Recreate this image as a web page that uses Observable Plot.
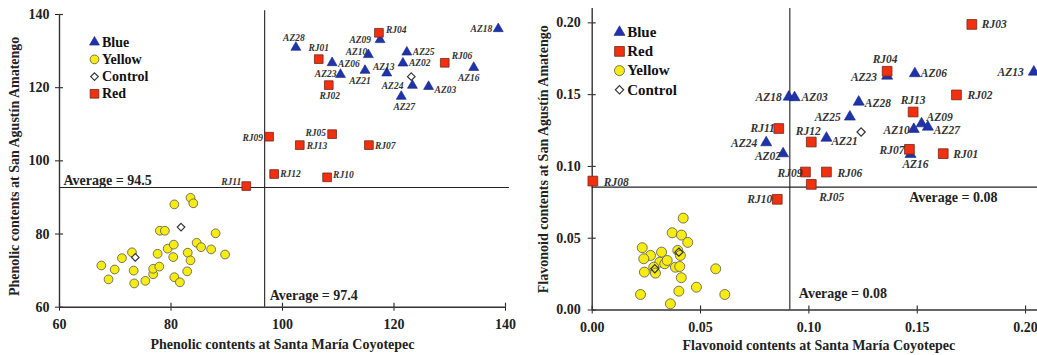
<!DOCTYPE html>
<html><head><meta charset="utf-8">
<script src="https://cdn.jsdelivr.net/npm/d3@7"></script>
<script src="https://cdn.jsdelivr.net/npm/@observablehq/plot@0.6"></script>
<style>
body{margin:0;background:#fff;width:1037px;height:355px;overflow:hidden}
#wrap{display:flex;width:1037px;height:355px;overflow:hidden}
#wrap svg{display:block;flex:none}
</style></head><body><div id="wrap"></div>
<script>
// ---------- DATA: Phenolic panel ----------
const phenolicBlue = [["AZ28",102.4,131.0],["AZ06",108.9,126.8],["AZ23",110.4,123.6],["AZ21",114.8,124.7],["AZ10",115.4,129.0],["AZ09",117.5,133.1],["AZ13",118.7,124.0],["AZ25",122.3,129.7],["AZ02",121.6,126.7],["AZ24",123.3,120.6],["AZ03",126.2,120.3],["AZ27",121.3,117.6],["AZ16",134.3,125.5],["AZ18",138.7,136.1]];
const phenolicRed = [["RJ01",106.5,127.8],["RJ02",108.3,120.7],["RJ04",117.3,135.0],["RJ06",129.1,126.8],["RJ09",97.6,106.6],["RJ05",108.9,107.3],["RJ13",103.1,104.3],["RJ07",115.5,104.3],["RJ12",98.5,96.4],["RJ10",108.0,95.5],["RJ11",93.5,93.1]];
const phenolicControl = [[73.6,73.6],[81.8,81.9],[123.1,123.0]];
const phenolicYellow = [[67.5,71.4],[68.8,67.6],[69.9,70.3],[71.2,73.4],[73.0,75.0],[73.3,70.0],[73.4,66.5],[75.4,67.2],[76.8,69.0],[76.8,70.5],[77.6,74.6],[77.9,71.1],[78.0,80.9],[78.9,80.9],[79.4,76.0],[80.4,73.7],[80.5,77.1],[80.6,68.2],[80.6,88.1],[81.6,66.8],[82.9,69.8],[83.0,74.9],[83.5,72.8],[83.5,89.9],[84.0,88.4],[84.6,77.6],[85.4,76.4],[87.2,75.8],[88.0,80.2],[89.7,74.4]];
const phenolicTicks = [60,80,100,120,140];
const phenolicAvgLineX = 96.8, phenolicAvgLineY = 92.7;
const phenolicAvgTextX = "Average = 97.4", phenolicAvgTextY = "Average = 94.5";
const phenolicLegend = ["Blue","Yellow","Control","Red"];

// ---------- DATA: Flavonoid panel ----------
const flavonoidBlue = [["AZ23",0.1361,0.1630],["AZ06",0.1489,0.1647],["AZ13",0.2038,0.1658],["AZ18",0.0907,0.1484],["AZ03",0.0934,0.1480],["AZ28",0.1230,0.1449],["AZ25",0.1189,0.1345],["AZ09",0.1520,0.1298],["AZ27",0.1549,0.1275],["AZ10",0.1484,0.1259],["AZ21",0.1081,0.1198],["AZ16",0.1469,0.1084],["AZ02",0.0881,0.1089],["AZ24",0.0803,0.1166]];
const flavonoidRed = [["RJ03",0.1752,0.1989],["RJ04",0.1361,0.1663],["RJ02",0.1681,0.1498],["RJ13",0.1481,0.1379],["RJ12",0.1011,0.1170],["RJ07",0.1464,0.1119],["RJ01",0.1620,0.1089],["RJ11",0.0861,0.1264],["RJ09",0.0984,0.0961],["RJ06",0.1081,0.0961],["RJ05",0.1011,0.0875],["RJ10",0.0854,0.0771],["RJ08",0.0003,0.0898]];
const flavonoidControl = [[0.1241,0.1240],[0.0400,0.0403],[0.0289,0.0287]];
const flavonoidYellow = [[0.0420,0.0640],[0.0369,0.0538],[0.0412,0.0522],[0.0441,0.0471],[0.0231,0.0434],[0.0269,0.0380],[0.0320,0.0403],[0.0238,0.0357],[0.0312,0.0333],[0.0335,0.0322],[0.0395,0.0415],[0.0407,0.0380],[0.0384,0.0298],[0.0404,0.0303],[0.0284,0.0298],[0.0241,0.0264],[0.0292,0.0257],[0.0411,0.0225],[0.0223,0.0108],[0.0400,0.0131],[0.0481,0.0159],[0.0361,0.0043],[0.0570,0.0287],[0.0612,0.0108],[0.0346,0.0345]];
const flavonoidTicks = [0,0.05,0.10,0.15,0.20];
const flavonoidAvgLineX = 0.0912, flavonoidAvgLineY = 0.0856;
const flavonoidAvgTextX = "Average = 0.08", flavonoidAvgTextY = "Average = 0.08";
const flavonoidLegend = ["Blue","Red","Yellow","Control"];

// ---------- LAYOUT (label placement: anchor, dx, dy in px) ----------
const phenolicLabelPos = {AZ28:["middle",-2,-9],RJ01:["middle",0,-11],AZ06:["start",6,1],AZ23:["end",-4,-1],RJ02:["middle",1,11],AZ21:["middle",-5,10],AZ10:["end",-1,-3],AZ09:["end",-9,0],RJ04:["start",7,-3],AZ13:["middle",-3,-6],AZ25:["start",6,0],AZ02:["start",6,0],AZ24:["end",-9,0],AZ03:["start",6,3],AZ27:["middle",3,10],RJ06:["start",7,-7],AZ16:["middle",-5,10],AZ18:["end",-6,0],RJ09:["end",-6,1],RJ05:["end",-6,-1],RJ13:["start",7,1],RJ07:["start",6,1],RJ12:["start",6,0],RJ10:["start",6,-2],RJ11:["end",-5,-4]};
const flavonoidLabelPos = {RJ03:["start",10,0],RJ04:["middle",-2,-12],AZ23:["end",-10,1],AZ06:["start",6,0],AZ13:["end",-10,0],RJ02:["start",11,0],AZ18:["end",-7,0],AZ03:["start",7,0],AZ28:["start",6,1],AZ25:["end",-9,0],RJ13:["middle",0,-12],AZ09:["start",5,-6],AZ27:["start",6,3],AZ10:["end",-4,1],RJ12:["middle",-3,-11],AZ21:["start",5,3],RJ07:["end",-5,1],AZ16:["middle",5,10],RJ01:["start",10,1],RJ11:["end",-4,0],AZ24:["end",-9,1],AZ02:["end",-2,3],RJ09:["end",-3,1],RJ06:["start",11,1],RJ05:["start",8,13],RJ10:["end",-5,0],RJ08:["start",11,1]};

const FONT = "'Liberation Serif','Times New Roman',serif";
const STY = {
  Blue:   {symbol:"triangle", fill:"#1f33aa", stroke:"#15237a", strokeWidth:0.6},
  Red:    {symbol:"square",   fill:"#f2300f", stroke:"#6e2a1c", strokeWidth:0.8},
  Yellow: {symbol:"circle",   fill:"#f6ec12", stroke:"#555",    strokeWidth:0.8},
  Control:{symbol:"diamond2", fill:"#fff",    stroke:"#333",    strokeWidth:1.2}
};

function panel(o) {
  const W = o.width, H = 355;
  const innerW = W - o.ml - o.mr, innerH = H - o.mt - o.mb;
  const m = [];
  // axis lines
  m.push(Plot.ruleX([o.xDomain[0]], {stroke:"#333", strokeWidth:1.4}));
  m.push(Plot.ruleY([o.yDomain[0]], {stroke:"#333", strokeWidth:1.4}));
  // inward half of the crossing ticks
  m.push(Plot.tickX(o.xTicks, {x: d => d, insetTop: innerH - 4, stroke:"#333", strokeWidth:1.2}));
  m.push(Plot.tickY(o.yTicks, {y: d => d, insetRight: innerW - 4, stroke:"#333", strokeWidth:1.2}));
  // average lines
  m.push(Plot.ruleX([o.avgX], {y1: o.vLine[0], y2: o.vLine[1], stroke:"#222", strokeWidth:1.1}));
  m.push(Plot.ruleY([o.avgY], {x1: o.hLine[0], x2: o.hLine[1], stroke:"#222", strokeWidth:1.1}));
  // average labels
  m.push(Plot.text([o.avgTextY], {y: () => o.avgY, frameAnchor: o.avgYLab.frame, textAnchor: o.avgYLab.anchor, dx: o.avgYLab.dx, dy: o.avgYLab.dy, text: d => d, fontSize: 14, fontWeight:"bold", fontFamily: FONT, fill:"#222"}));
  m.push(Plot.text([o.avgTextX], {x: () => o.avgX, frameAnchor:"bottom", lineAnchor:"middle", textAnchor:"start", dx: o.avgXLab.dx, dy: o.avgXLab.dy, text: d => d, fontSize: 14, fontWeight:"bold", fontFamily: FONT, fill:"#222"}));
  // points
  const yel = STY.Yellow, ctl = STY.Control, blu = STY.Blue, red = STY.Red;
  m.push(Plot.dot(o.yellow, {x: d => d[0], y: d => d[1], ...yel, r: o.r.circle}));
  m.push(Plot.dot(o.blue, {x: d => d[1], y: d => d[2], ...blu, r: o.r.triangle}));
  m.push(Plot.dot(o.red, {x: d => d[1], y: d => d[2], ...red, r: o.r.square}));
  m.push(Plot.dot(o.control, {x: d => d[0], y: d => d[1], ...ctl, fill: o.controlFill, r: o.r.diamond}));
  // point labels
  for (const d of [...o.blue, ...o.red]) {
    const p = o.labelPos[d[0]] || ["start", 6, 0];
    m.push(Plot.text([d], {x: d => d[1], y: d => d[2], text: d => d[0], textAnchor: p[0], dx: p[1], dy: p[2], fontSize: o.labelSize, fontWeight:"bold", fontStyle:"italic", fontFamily: FONT, fill:"#333"}));
  }
  // legend
  o.legend.forEach((name, i) => {
    const s = STY[name];
    const rr = {Blue:o.r.triangle, Red:o.r.square, Yellow:o.r.circle, Control:o.r.diamond}[name];
    m.push(Plot.dot([name], {frameAnchor:"top-left", dx: o.leg.dx, dy: o.leg.dy + i*o.leg.step, ...s, fill: name === "Control" ? "#fff" : s.fill, r: rr}));
    m.push(Plot.text([name], {frameAnchor:"top-left", lineAnchor:"middle", dx: o.leg.tx, dy: o.leg.dy + i*o.leg.step, text: d => d, textAnchor:"start", fontSize: o.leg.size, fontWeight:"bold", fontFamily: FONT, fill:"#111"}));
  });
  // axis titles
  m.push(Plot.text([o.xTitle], {frameAnchor:"bottom", lineAnchor:"middle", textAnchor:"middle", dx: o.xTitleOff[0], dy: o.xTitleOff[1], text: d => d, fontSize: 14, fontWeight:"bold", fontFamily: FONT, fill:"#222"}));
  m.push(Plot.text([o.yTitle], {frameAnchor:"left", lineAnchor:"middle", textAnchor:"middle", rotate: -90, dx: o.yTitleOff[0], dy: o.yTitleOff[1], text: d => d, fontSize: 14, fontWeight:"bold", fontFamily: FONT, fill:"#222"}));

  return Plot.plot({
    width: W, height: H,
    marginLeft: o.ml, marginRight: o.mr, marginTop: o.mt, marginBottom: o.mb,
    style: {fontFamily: FONT, fontSize: "14px", fontWeight: "bold", color: "#222", background: "#fff", overflow: "visible"},
    x: {domain: o.xDomain, ticks: o.xTicks, tickFormat: o.fmt, tickSize: 4, tickPadding: o.padX, label: null},
    y: {domain: o.yDomain, ticks: o.yTicks, tickFormat: o.fmt, tickSize: 4, tickPadding: o.padY, label: null},
    marks: m
  });
}

const left = panel({
  width: 520, ml: 59, mr: 15, mt: 14, mb: 48.3,
  xDomain: [60, 140], yDomain: [60, 140], xTicks: phenolicTicks, yTicks: phenolicTicks,
  fmt: d3.format("d"), padX: 8, padY: 6,
  avgX: phenolicAvgLineX, avgY: phenolicAvgLineY, vLine: [60, 141], hLine: [60, 140.7],
  avgTextX: phenolicAvgTextX, avgTextY: phenolicAvgTextY,
  avgYLab: {frame:"left", anchor:"start", dx: 4, dy: -7},
  avgXLab: {dx: 5, dy: -12},
  yellow: phenolicYellow, blue: phenolicBlue, red: phenolicRed, control: phenolicControl, controlFill: "#fff",
  r: {circle: 4.4, triangle: 3.7, square: 4.9, diamond: 3.4},
  labelPos: phenolicLabelPos, labelSize: 9.5,
  legend: phenolicLegend, leg: {dx: 35, dy: 27.7, step: 17.2, tx: 42.5, size: 14},
  xTitle: "Phenolic contents at Santa María Coyotepec", xTitleOff: [0, 37.5],
  yTitle: "Phenolic contents at San Agustín Amatengo", yTitleOff: [-45, 5.5]
});

const right = panel({
  width: 517, ml: 71.7, mr: 0, mt: 8, mb: 45.5,
  xDomain: [0, 0.2055], yDomain: [0, 0.21], xTicks: flavonoidTicks, yTicks: flavonoidTicks,
  fmt: d3.format(".2f"), padX: 8, padY: 7.5,
  avgX: flavonoidAvgLineX, avgY: flavonoidAvgLineY, vLine: [0, 0.21], hLine: [0, 0.2055],
  avgTextX: flavonoidAvgTextX, avgTextY: flavonoidAvgTextY,
  avgYLab: {frame:"right", anchor:"end", dx: -40, dy: 10},
  avgXLab: {dx: 9, dy: -16},
  yellow: flavonoidYellow, blue: flavonoidBlue, red: flavonoidRed, control: flavonoidControl, controlFill: "none",
  r: {circle: 5, triangle: 4.1, square: 5.5, diamond: 3.7},
  labelPos: flavonoidLabelPos, labelSize: 11.5,
  legend: flavonoidLegend, leg: {dx: 27.3, dy: 23.7, step: 19.2, tx: 35, size: 15},
  xTitle: "Flavonoid contents at Santa María Coyotepec", xTitleOff: [4, 36],
  yTitle: "Flavonoid contents at San Agustín Amatengo", yTitleOff: [-48.7, 0]
});

const wrap = document.getElementById("wrap");
wrap.appendChild(left);
wrap.appendChild(right);
</script>
</body></html>
